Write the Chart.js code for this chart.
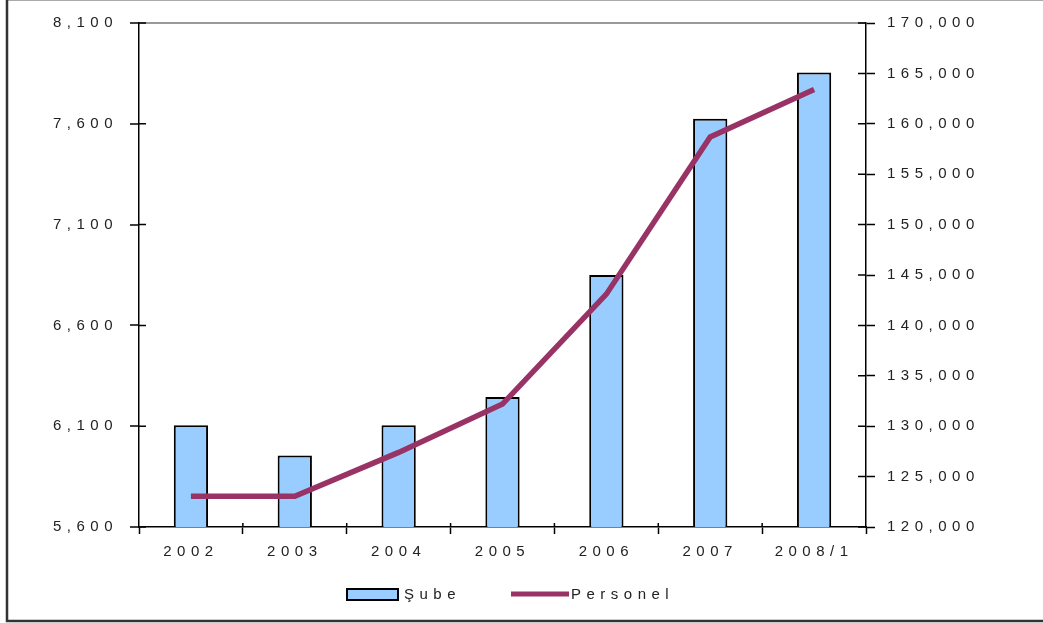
<!DOCTYPE html>
<html lang="tr">
<head>
    <meta charset="UTF-8">
    <title>Şube / Personel</title>
    <script src="https://cdn.jsdelivr.net/npm/chart.js"></script>
    <style>
        html, body { margin: 0; padding: 0; background: #fff; }
        #wrap { width: 1043px; height: 623px; position: relative; }
    </style>
</head>
<body>
    <div id="wrap"><canvas id="subeChart"></canvas></div>

    <script>
        // veriler (grafikten okunan yaklaşık değerler)
        const yillar = ['2002', '2003', '2004', '2005', '2006', '2007', '2008/1'];
        const subeSayisi = [6105, 5955, 6105, 6245, 6850, 7625, 7855];
        const personelSayisi = [123050, 123050, 127400, 132200, 143100, 158700, 163400];

        const solMin = 5600, solMax = 8100, solAdim = 500;
        const sagMin = 120000, sagMax = 170000, sagAdim = 5000;

        const yaziRenk = '#222';
        const harfAraligi = '5.5px';

        function fmt(v) {
            return Number(v).toLocaleString('en-US');
        }

        // harf aralığını canvas üzerinde ayarla
        const harfPlugin = {
            id: 'harf',
            beforeLayout(chart) { chart.ctx.letterSpacing = harfAraligi; },
            beforeDraw(chart) { chart.ctx.letterSpacing = harfAraligi; }
        };

        // eksenlerin içine taşan tik çizgileri, çerçeve ve açıklama
        const suslerPlugin = {
            id: 'susler',
            afterDraw(chart) {
                const ctx = chart.ctx;
                const a = chart.chartArea;
                const sol = chart.scales.y, sag = chart.scales.y1, x = chart.scales.x;
                ctx.save();
                ctx.strokeStyle = '#000';
                ctx.lineWidth = 1.5;
                ctx.beginPath();
                sol.ticks.forEach(t => {
                    const py = sol.getPixelForValue(t.value);
                    ctx.moveTo(a.left, py); ctx.lineTo(a.left + 7, py);
                });
                sag.ticks.forEach(t => {
                    const py = sag.getPixelForValue(t.value);
                    ctx.moveTo(a.right, py); ctx.lineTo(a.right - 8, py);
                });
                for (let i = 1; i < yillar.length; i++) {
                    const px = (x.getPixelForValue(i - 1) + x.getPixelForValue(i)) / 2;
                    ctx.moveTo(px, a.bottom); ctx.lineTo(px, a.bottom - 4);
                }
                ctx.stroke();

                // dış çerçeve
                ctx.strokeStyle = '#aaa';
                ctx.lineWidth = 1;
                ctx.beginPath();
                ctx.moveTo(7, 0.5); ctx.lineTo(chart.width, 0.5);
                ctx.stroke();
                ctx.strokeStyle = '#333';
                ctx.lineWidth = 2.5;
                ctx.beginPath();
                ctx.moveTo(7, 0); ctx.lineTo(7, 621); ctx.lineTo(chart.width, 621);
                ctx.stroke();

                // açıklama
                const cubuk = chart.data.datasets.find(d => d.type === 'bar');
                const cizgi = chart.data.datasets.find(d => d.type === 'line');
                ctx.letterSpacing = harfAraligi;
                ctx.font = '15px "Liberation Sans", Arial, sans-serif';
                ctx.textBaseline = 'middle';
                ctx.textAlign = 'left';

                ctx.fillStyle = cubuk.backgroundColor;
                ctx.fillRect(347, 589, 51, 11);
                ctx.strokeStyle = '#000';
                ctx.lineWidth = 2;
                ctx.strokeRect(347, 589, 51, 11);
                ctx.fillStyle = yaziRenk;
                ctx.fillText(cubuk.label, 404, 595);

                ctx.strokeStyle = cizgi.borderColor;
                ctx.lineWidth = 5;
                ctx.beginPath();
                ctx.moveTo(511, 594); ctx.lineTo(569, 594);
                ctx.stroke();
                ctx.fillStyle = yaziRenk;
                ctx.fillText(cizgi.label, 571, 595);
                ctx.restore();
            }
        };

        const yazi = { family: '"Liberation Sans", Arial, sans-serif', size: 15 };

        new Chart(document.getElementById('subeChart'), {
            data: {
                labels: yillar,
                datasets: [
                    {
                        type: 'line',
                        label: 'Personel',
                        data: personelSayisi,
                        yAxisID: 'y1',
                        borderColor: '#993366',
                        backgroundColor: '#993366',
                        borderWidth: 5.5,
                        pointRadius: 0,
                        tension: 0,
                        order: 0
                    },
                    {
                        type: 'bar',
                        label: 'Şube',
                        data: subeSayisi,
                        yAxisID: 'y',
                        backgroundColor: '#99ccff',
                        borderColor: '#000',
                        borderWidth: 2,
                        barPercentage: 0.33,
                        categoryPercentage: 1,
                        order: 1
                    }
                ]
            },
            options: {
                responsive: true,
                maintainAspectRatio: false,
                animation: false,
                layout: { padding: { top: 23, left: 0, right: 0, bottom: 0 } },
                plugins: {
                    legend: { display: false },
                    tooltip: { enabled: false }
                },
                scales: {
                    x: {
                        afterFit(s) { s.height = 96; },
                        grid: {
                            offset: true,
                            drawOnChartArea: false,
                            tickLength: 7,
                            tickColor: '#000',
                            tickWidth: 1.5
                        },
                        border: { color: '#000', width: 1.5 },
                        ticks: { color: yaziRenk, font: yazi, padding: 9, maxRotation: 0 }
                    },
                    y: {
                        position: 'left',
                        min: solMin,
                        max: solMax,
                        afterFit(s) { s.width = 139; },
                        grid: {
                            color: c => (c.tick && c.tick.value === solMax) ? '#999' : 'rgba(0,0,0,0)',
                            lineWidth: 2,
                            tickLength: 9,
                            tickColor: '#000',
                            tickWidth: 1.5
                        },
                        border: { color: '#000', width: 1.5 },
                        ticks: {
                            stepSize: solAdim,
                            color: yaziRenk,
                            font: yazi,
                            padding: 12,
                            callback: v => fmt(v)
                        }
                    },
                    y1: {
                        position: 'right',
                        min: sagMin,
                        max: sagMax,
                        afterFit(s) { s.width = 177; },
                        grid: {
                            drawOnChartArea: false,
                            tickLength: 9,
                            tickColor: '#000',
                            tickWidth: 1.5
                        },
                        border: { color: '#000', width: 1.5 },
                        ticks: {
                            stepSize: sagAdim,
                            color: yaziRenk,
                            font: yazi,
                            padding: 12,
                            callback: v => fmt(v)
                        }
                    }
                }
            },
            plugins: [harfPlugin, suslerPlugin]
        });
    </script>
</body>
</html>
